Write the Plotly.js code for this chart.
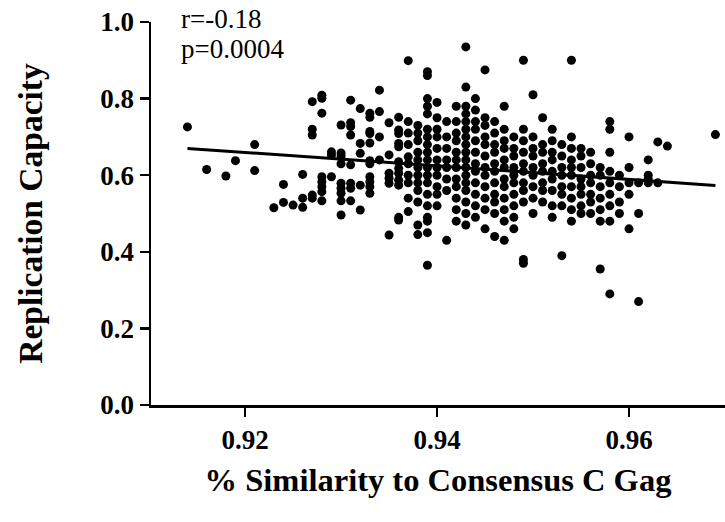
<!DOCTYPE html>
<html>
<head>
<meta charset="utf-8">
<script src="https://cdn.plot.ly/plotly-3.0.1.min.js"></script>
<style>
  html, body { margin: 0; padding: 0; background: #fff; }
  #chart { width: 725px; height: 522px; }
</style>
</head>
<body>
<div id="chart"></div>
<script>
// Gag similarity to consensus subtype C (x) for each isolate group
const simLevels = [
  0.914, 0.916, 0.918, 0.919, 0.921, 0.923, 0.924, 0.925, 0.926, 0.927,
  0.928, 0.929, 0.930, 0.931, 0.932, 0.933, 0.934, 0.935, 0.936, 0.937,
  0.938, 0.939, 0.940, 0.941, 0.942, 0.943, 0.944, 0.945, 0.946, 0.947,
  0.948, 0.949, 0.950, 0.951, 0.952, 0.953, 0.954, 0.955, 0.956, 0.957,
  0.958, 0.959, 0.960, 0.961, 0.962, 0.963, 0.964, 0.969
];

// Replication capacity values measured at each similarity level
const rcAtLevel = [
  [0.726],
  [0.615],
  [0.598],
  [0.638],
  [0.680, 0.612],
  [0.515],
  [0.576, 0.529],
  [0.522],
  [0.602, 0.540, 0.516],
  [0.792, 0.720, 0.705, 0.548, 0.540],
  [0.809, 0.801, 0.762, 0.596, 0.583, 0.570, 0.557, 0.533],
  [0.661, 0.653, 0.596],
  [0.731, 0.658, 0.650, 0.630, 0.579, 0.566, 0.553, 0.533, 0.496],
  [0.796, 0.737, 0.727, 0.705, 0.627, 0.579, 0.566, 0.533],
  [0.774, 0.683, 0.657, 0.574, 0.509],
  [0.762, 0.751, 0.714, 0.709, 0.684, 0.638, 0.630, 0.596, 0.583, 0.570, 0.553],
  [0.822, 0.766, 0.700, 0.640],
  [0.737, 0.653, 0.605, 0.592, 0.579, 0.444],
  [0.751, 0.718, 0.709, 0.683, 0.674, 0.635, 0.618, 0.605, 0.587, 0.574, 0.490, 0.483],
  [0.899, 0.740, 0.710, 0.680, 0.648, 0.630, 0.600, 0.580, 0.540, 0.505],
  [0.730, 0.710, 0.690, 0.660, 0.640, 0.620, 0.600, 0.580, 0.560, 0.530, 0.470, 0.445],
  [0.870, 0.860, 0.800, 0.780, 0.760, 0.720, 0.700, 0.680, 0.660, 0.640, 0.620, 0.600, 0.580, 0.550, 0.520, 0.490, 0.480, 0.450, 0.365],
  [0.790, 0.750, 0.720, 0.700, 0.670, 0.640, 0.620, 0.600, 0.570, 0.550, 0.520],
  [0.740, 0.700, 0.670, 0.640, 0.620, 0.590, 0.560, 0.430],
  [0.780, 0.740, 0.710, 0.690, 0.660, 0.640, 0.620, 0.590, 0.570, 0.540, 0.510, 0.480],
  [0.935, 0.830, 0.780, 0.760, 0.740, 0.720, 0.700, 0.680, 0.660, 0.640, 0.620, 0.600, 0.580, 0.560, 0.530, 0.500, 0.470],
  [0.800, 0.770, 0.740, 0.720, 0.690, 0.660, 0.630, 0.610, 0.580, 0.550, 0.520, 0.490],
  [0.875, 0.750, 0.730, 0.700, 0.680, 0.650, 0.620, 0.600, 0.570, 0.540, 0.510, 0.460],
  [0.740, 0.710, 0.680, 0.660, 0.630, 0.610, 0.580, 0.550, 0.530, 0.500, 0.440],
  [0.780, 0.720, 0.690, 0.670, 0.640, 0.620, 0.590, 0.570, 0.540, 0.510, 0.480, 0.430],
  [0.700, 0.670, 0.650, 0.620, 0.600, 0.580, 0.550, 0.520, 0.490, 0.460],
  [0.900, 0.720, 0.690, 0.660, 0.630, 0.610, 0.580, 0.560, 0.530, 0.380, 0.370],
  [0.810, 0.700, 0.670, 0.650, 0.620, 0.600, 0.570, 0.540, 0.500],
  [0.750, 0.680, 0.660, 0.630, 0.610, 0.580, 0.560, 0.530],
  [0.720, 0.690, 0.660, 0.640, 0.610, 0.590, 0.560, 0.520, 0.490],
  [0.680, 0.650, 0.620, 0.600, 0.570, 0.550, 0.520, 0.390],
  [0.900, 0.700, 0.670, 0.640, 0.620, 0.600, 0.570, 0.540, 0.510, 0.480],
  [0.670, 0.650, 0.620, 0.590, 0.570, 0.550, 0.520, 0.500],
  [0.660, 0.630, 0.600, 0.580, 0.550, 0.530, 0.500],
  [0.620, 0.600, 0.570, 0.540, 0.510, 0.480, 0.355],
  [0.740, 0.720, 0.660, 0.610, 0.580, 0.550, 0.520, 0.480, 0.290],
  [0.600, 0.570, 0.530, 0.500],
  [0.700, 0.620, 0.580, 0.550, 0.460],
  [0.580, 0.500, 0.270],
  [0.640, 0.600, 0.590, 0.580],
  [0.687, 0.580],
  [0.676],
  [0.706]
];

const xTickVals = [0.92, 0.94, 0.96];
const xTickText = ['0.92', '0.94', '0.96'];
const yTickVals = [0.0, 0.2, 0.4, 0.6, 0.8, 1.0];
const yTickText = ['0.0', '0.2', '0.4', '0.6', '0.8', '1.0'];
const statLines = ['r=-0.18', 'p=0.0004'];

// flatten the grouped values into point lists
const simX = [];
const rcY = [];
simLevels.forEach((s, i) => {
  rcAtLevel[i].forEach(v => { simX.push(s); rcY.push(v); });
});

// least-squares fit drawn across the observed similarity range
const n = simX.length;
const mx = simX.reduce((a, b) => a + b, 0) / n;
const my = rcY.reduce((a, b) => a + b, 0) / n;
let sxy = 0, sxx = 0;
for (let i = 0; i < n; i++) {
  sxy += (simX[i] - mx) * (rcY[i] - my);
  sxx += (simX[i] - mx) ** 2;
}
const slope = sxy / sxx;
const intercept = my - slope * mx;
const xMin = Math.min(...simX), xMax = Math.max(...simX);
const fitX = [xMin, xMax];
const fitY = fitX.map(x => intercept + slope * x);

const serif = 'Liberation Serif, Times New Roman, serif';

const traces = [
  {
    x: simX, y: rcY, type: 'scatter', mode: 'markers',
    marker: { color: '#000', size: 9, line: { width: 0 } },
    hoverinfo: 'x+y', showlegend: false
  },
  {
    x: fitX, y: fitY, type: 'scatter', mode: 'lines',
    line: { color: '#000', width: 3 },
    hoverinfo: 'skip', showlegend: false
  }
];

const layout = {
  width: 725, height: 522,
  margin: { l: 151, r: 0, t: 22, b: 117 },
  paper_bgcolor: '#fff', plot_bgcolor: '#fff',
  showlegend: false,
  font: { family: serif, color: '#000' },
  xaxis: {
    range: [0.9102, 0.97],
    tickvals: xTickVals, ticktext: xTickText,
    ticks: 'outside', ticklen: 9, tickwidth: 2.5, tickcolor: '#000',
    showline: true, linewidth: 2.5, linecolor: '#000',
    showgrid: false, zeroline: false,
    tickfont: { family: serif, size: 27, color: '#000', weight: 'bold' },
    title: {
      text: '<b>% Similarity to Consensus C Gag</b>',
      font: { family: serif, size: 32.5, color: '#000' },
      standoff: 15
    }
  },
  yaxis: {
    range: [0, 1.0],
    tickvals: yTickVals, ticktext: yTickText,
    ticks: 'outside', ticklen: 9, tickwidth: 2.5, tickcolor: '#000',
    showline: true, linewidth: 2.5, linecolor: '#000',
    showgrid: false, zeroline: false,
    tickfont: { family: serif, size: 27, color: '#000', weight: 'bold' },
    title: {
      text: '<b>Replication Capacity</b>',
      font: { family: serif, size: 33.5, color: '#000' },
      standoff: 48
    }
  },
  annotations: [
    {
      xref: 'paper', yref: 'paper', x: 0.048, y: 1.008,
      xanchor: 'left', yanchor: 'middle', showarrow: false,
      text: statLines[0], font: { family: serif, size: 27, color: '#000' }
    },
    {
      xref: 'paper', yref: 'paper', x: 0.048, y: 0.93,
      xanchor: 'left', yanchor: 'middle', showarrow: false,
      text: statLines[1], font: { family: serif, size: 27, color: '#000' }
    }
  ]
};

Plotly.newPlot('chart', traces, layout, { staticPlot: true, displayModeBar: false });
</script>
</body>
</html>
